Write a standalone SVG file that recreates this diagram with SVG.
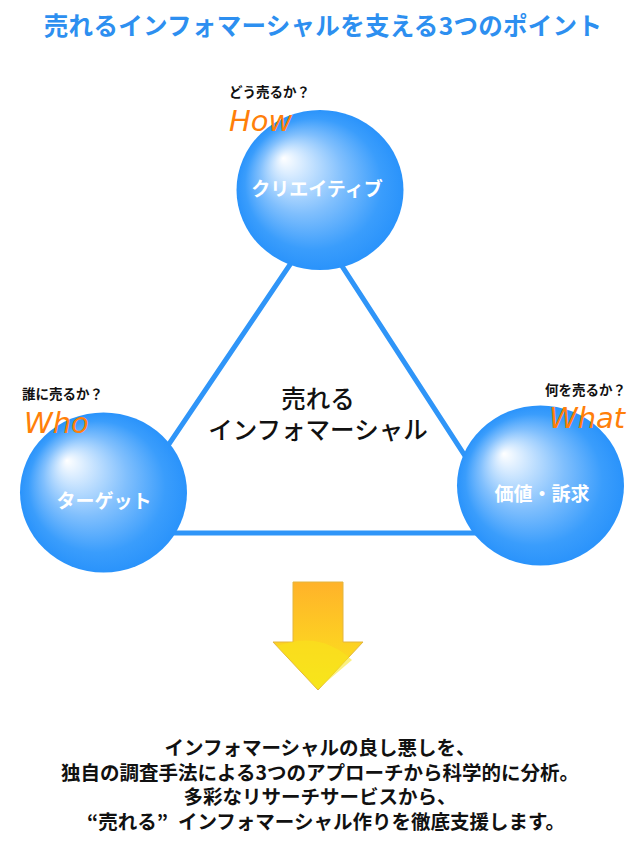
<svg xmlns="http://www.w3.org/2000/svg" width="638" height="847" viewBox="0 0 638 847">
<defs>
<radialGradient id="sph" cx="0.5" cy="0.5" r="0.5" fx="0.28" fy="0.3">
<stop offset="0" stop-color="#ffffff"/>
<stop offset="0.15" stop-color="#d9ecff"/>
<stop offset="0.5" stop-color="#80bffd"/>
<stop offset="0.82" stop-color="#3a9dfc"/>
<stop offset="1" stop-color="#2a93fb"/>
</radialGradient>
<linearGradient id="arr" x1="0" y1="0" x2="0" y2="1">
<stop offset="0" stop-color="#ffb22a"/>
<stop offset="0.55" stop-color="#fdd022"/>
<stop offset="1" stop-color="#f6e71a"/>
</linearGradient>
<style>
.jp{font-family:"Noto Sans CJK JP","Noto Sans",sans-serif}
.q{font-size:13.5px;font-weight:bold;fill:#111}
.en{font-family:"DejaVu Sans",sans-serif;font-style:italic;font-size:29px;fill:#ff7f0a}
.lbl{font-size:19px;font-weight:bold;fill:#ffffff;text-anchor:middle}
.ln{fill:none;stroke:#2f95f8;stroke-width:5;stroke-linejoin:miter}
</style>
</defs>
<rect width="638" height="847" fill="#ffffff"/>
<text class="jp" x="323" y="35" text-anchor="middle" font-size="24.5" font-weight="bold" letter-spacing="0.3" fill="#2d8ff0">売れるインフォマーシャルを支える3つのポイント</text>
<g id="connectors">
<polygon class="ln" points="316,226 109,533 515,533"/>
</g>
<g id="center" class="jp" font-size="24.5" font-weight="500" fill="#111" text-anchor="middle">
<text x="318" y="408">売れる</text>
<text x="318" y="439">インフォマーシャル</text>
</g>
<g id="how">
<text class="jp q" x="229" y="97">どう売るか？</text>
<ellipse cx="320" cy="190" rx="83.5" ry="80" fill="url(#sph)"/>
<text class="en" x="229" y="131">How</text>
<text class="jp lbl" x="317" y="196">クリエイティブ</text>
</g>
<g id="who">
<text class="jp q" x="22" y="399">誰に売るか？</text>
<ellipse cx="103.5" cy="492.5" rx="83.5" ry="80" fill="url(#sph)"/>
<text class="en" x="24" y="433">Who</text>
<text class="jp lbl" x="104" y="508">ターゲット</text>
</g>
<g id="what">
<text class="jp q" x="545" y="395">何を売るか？</text>
<ellipse cx="540.5" cy="485.5" rx="83.5" ry="80" fill="url(#sph)"/>
<text class="en" x="549" y="428">What</text>
<text class="jp lbl" x="542" y="501">価値・訴求</text>
</g>
<g id="arrow">
<polygon points="293,582 343,582 343,642 363,642 318,690 273,642 293,642" fill="url(#arr)" stroke="#e3b640" stroke-width="1"/>
<path d="M277,646 Q320,630 352,660 L318,689 Z" fill="#f7e61c" opacity="0.55"/>
</g>
<g id="summary" class="jp" font-size="19.5" font-weight="bold" fill="#111" text-anchor="middle">
<text x="320" y="755">インフォマーシャルの良し悪しを、</text>
<text x="320" y="780">独自の調査手法による3つのアプローチから科学的に分析。</text>
<text x="320" y="804">多彩なリサーチサービスから、</text>
<text x="326" y="829"><tspan>“売れる”</tspan><tspan dx="10">インフォマーシャル作りを徹底支援します。</tspan></text>
</g>
</svg>
